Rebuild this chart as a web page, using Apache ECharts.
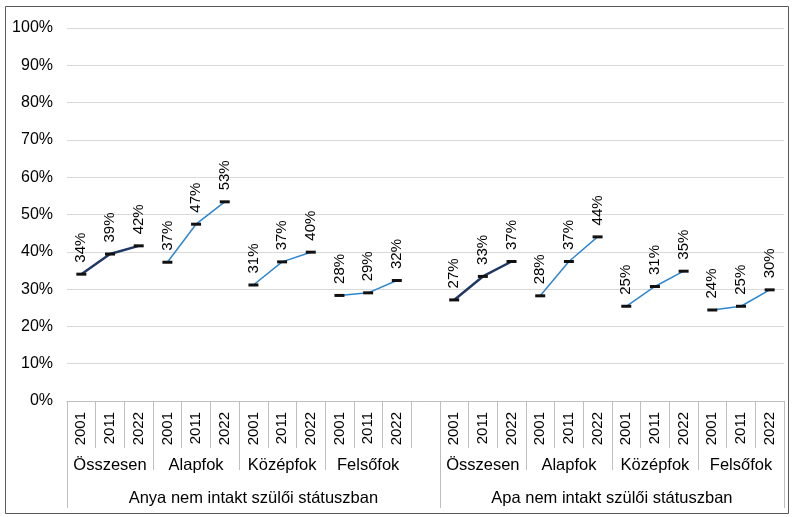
<!DOCTYPE html>
<html><head><meta charset="utf-8">
<script src="https://cdn.jsdelivr.net/npm/echarts@6/dist/echarts.min.js"></script>
<style>html,body{margin:0;padding:0;background:#fff}#c{width:792px;height:517px}</style>
</head><body><div id="c"></div>
<script>
// Data (percent)
const years = ['2001','2011','2022'];
const subgroups = ['Összesen','Alapfok','Középfok','Felsőfok'];
const groups = ['Anya nem intakt szülői státuszban','Apa nem intakt szülői státuszban'];
const anyaOsszesen = [34.0, 39.4, 41.6];
const anyaAlapfok = [37.2, 47.4, 53.4];
const anyaKozepfok = [31.1, 37.3, 39.9];
const anyaFelsofok = [28.3, 29.0, 32.3];
const apaOsszesen = [27.1, 33.4, 37.4];
const apaAlapfok = [28.2, 37.4, 44.0];
const apaKozepfok = [25.4, 30.7, 34.8];
const apaFelsofok = [24.4, 25.4, 29.8];
const yTicks = [0,10,20,30,40,50,60,70,80,90,100];

const seriesVals = [anyaOsszesen, anyaAlapfok, anyaKozepfok, anyaFelsofok,
                    apaOsszesen, apaAlapfok, apaKozepfok, apaFelsofok];

// Build categories: group A (12) + blank + group B (12)
const cats = [];
const starts = [];
groups.forEach((g, gi) => {
  subgroups.forEach((s, si) => {
    starts.push(cats.length);
    years.forEach(y => cats.push(y));
  });
  if (gi === 0) cats.push(' ');
});
const N = cats.length; // 25

const subTicks = [];
const subLabelPos = [];
const subLabelMap = {};
starts.forEach((st, i) => {
  subTicks.push(st);
  subLabelPos.push(st + 1.5);
  subLabelMap[st + 1.5] = subgroups[i % 4];
});
subTicks.push(N);
const groupTicks = [0, 13, N];
const groupLabelPos = [6.5, 19];
const groupLabelMap = {6.5: groups[0], 19: groups[1]};

const font = '"Liberation Sans", Arial, sans-serif';
const tickColor = '#bfbfbf';

const series = seriesVals.map((vals, i) => {
  const data = new Array(N).fill(null);
  vals.forEach((v, k) => { data[starts[i] + k] = v; });
  const total = (i % 4) === 0;
  return {
    type: 'line',
    xAxisIndex: 0,
    data: data,
    connectNulls: false,
    symbol: 'rect',
    symbolSize: [10, 3],
    itemStyle: { color: '#111' },
    lineStyle: { color: total ? '#1f3864' : '#2e86d0', width: total ? 2.5 : 1.5 },
    label: {
      show: true, position: 'top', rotate: 90, align: 'left', verticalAlign: 'middle',
      distance: 10, fontFamily: font, fontSize: 15, color: '#000',
      formatter: p => Math.round(p.value) + '%'
    },
    emphasis: { disabled: true },
    animation: false
  };
});

const chart = echarts.init(document.getElementById('c'), null, { renderer: 'canvas' });
chart.setOption({
  animation: false,
  backgroundColor: '#fff',
  graphic: [{
    type: 'rect', shape: { x: 5.5, y: 6.5, width: 783, height: 507 },
    style: { fill: 'none', stroke: '#595959', lineWidth: 1 }, silent: true
  }],
  grid: { left: 67, right: 8, top: 28, bottom: 116, containLabel: false },
  yAxis: {
    type: 'value', min: 0, max: 100, interval: 10,
    axisLine: { show: false }, axisTick: { show: false },
    axisLabel: { formatter: '{value}%', fontFamily: font, fontSize: 16, color: '#000', margin: 14 },
    splitLine: { lineStyle: { color: '#d9d9d9', width: 1 } }
  },
  xAxis: [
    {
      type: 'category', data: cats, position: 'bottom', boundaryGap: true,
      axisLine: { lineStyle: { color: tickColor } },
      axisTick: { show: true, interval: 0, length: 47, lineStyle: { color: tickColor } },
      axisLabel: { interval: 0, rotate: 90, fontFamily: font, fontSize: 15, color: '#000', margin: 11 },
      splitLine: { show: false }
    },
    {
      type: 'value', min: 0, max: N, position: 'bottom', offset: 47,
      axisLine: { show: false },
      axisTick: { show: true, customValues: subTicks, length: 22, lineStyle: { color: tickColor } },
      axisLabel: { customValues: subLabelPos, formatter: v => subLabelMap[v] || '',
        fontFamily: font, fontSize: 16.5, color: '#000', margin: 9 },
      splitLine: { show: false }
    },
    {
      type: 'value', min: 0, max: N, position: 'bottom', offset: 69,
      axisLine: { show: false },
      axisTick: { show: true, customValues: groupTicks, length: 38, lineStyle: { color: tickColor } },
      axisLabel: { customValues: groupLabelPos, formatter: v => groupLabelMap[v] || '',
        fontFamily: font, fontSize: 16.5, color: '#000', margin: 20 },
      splitLine: { show: false }
    }
  ],
  series: series
});
</script>
</body></html>
